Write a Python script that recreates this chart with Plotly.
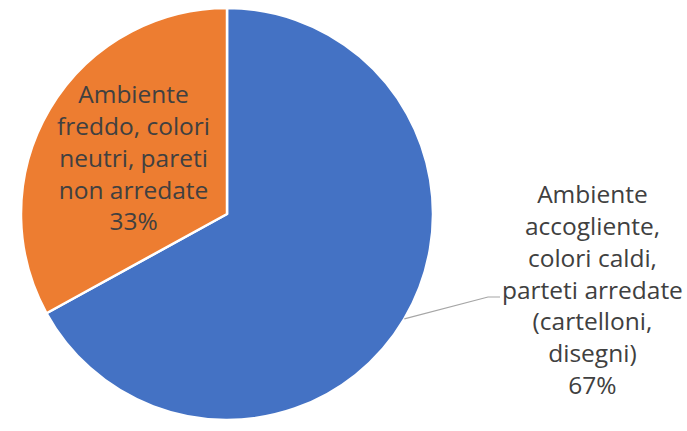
import math
import plotly.graph_objects as go

labels = [
    "Ambiente accogliente, colori caldi, parteti arredate (cartelloni, disegni)",
    "Ambiente freddo, colori neutri, pareti non arredate",
]
values = [67, 33]
colors = ["#4472C4", "#ED7D31"]
label_text = [
    "Ambiente<br>accogliente,<br>colori caldi,<br>parteti arredate<br>(cartelloni,<br>disegni)<br>67%",
    "Ambiente<br>freddo, colori<br>neutri, pareti<br>non arredate<br>33%",
]

W, H = 687, 431
cx, cy, r = 227, 214, 206  # pie centre / radius in pixels

fig = go.Figure(go.Pie(
    labels=labels, values=values, sort=False, direction="clockwise", rotation=0,
    marker=dict(colors=colors, line=dict(color="white", width=2.5)),
    textinfo="none", hoverinfo="label+percent", showlegend=False,
    domain=dict(x=[(cx - r) / W, (cx + r) / W], y=[(H - cy - r) / H, (H - cy + r) / H]),
))

font = dict(family="Open Sans, Lato, sans-serif", size=24.5, color="#404040")
fig.add_annotation(text=label_text[1], x=133 / W, y=1 - 157 / H, xref="paper", yref="paper",
                   xanchor="center", yanchor="middle",
                   showarrow=False, align="center", font=font)
fig.add_annotation(text=label_text[0], x=592 / W, y=1 - 289 / H, xref="paper", yref="paper",
                   xanchor="center", yanchor="middle",
                   showarrow=False, align="center", font=font)

# leader line from the middle of the blue slice's edge
mid = math.radians(90 - 360 * values[0] / sum(values) / 2)
ex, ey = cx + r * math.cos(mid), cy - r * math.sin(mid)
fig.add_shape(type="path", xref="paper", yref="paper",
              path=f"M {ex / W},{1 - ey / H} L {488 / W},{1 - 297 / H} L {500 / W},{1 - 297 / H}",
              line=dict(color="#A6A6A6", width=1.2))

fig.update_layout(width=W, height=H, margin=dict(l=0, r=0, t=0, b=0),
                  paper_bgcolor="white", plot_bgcolor="white")
fig.write_html("out.html", config={"displayModeBar": False},
               post_script="document.body.style.margin='0';")
